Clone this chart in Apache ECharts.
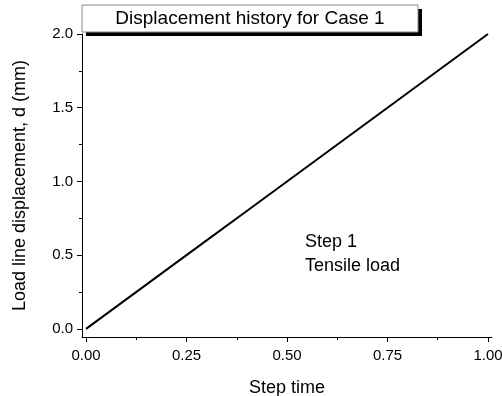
<!DOCTYPE html>
<html><head><meta charset="utf-8">
<script src="https://cdn.jsdelivr.net/npm/echarts@6/dist/echarts.min.js"></script>
<style>html,body{margin:0;padding:0;background:#fff}#c{width:502px;height:396px}</style>
</head><body><div id="c"></div>
<script>
const stepTime = [0, 0.1, 0.2, 0.3, 0.4, 0.5, 0.6, 0.7, 0.8, 0.9, 1.0];
const displacement = [0, 0.2, 0.4, 0.6, 0.8, 1.0, 1.2, 1.4, 1.6, 1.8, 2.0];
const xTicks = [0, 0.25, 0.5, 0.75, 1.0];
const xMinorTicks = [0.125, 0.375, 0.625, 0.875];
const yTicks = [0, 0.5, 1.0, 1.5, 2.0];
const yMinorTicks = [0.25, 0.75, 1.25, 1.75];
const titleText = 'Displacement history for Case 1';
const noteLines = ['Step 1', 'Tensile load'];

const FONT = 'Liberation Sans, Arial, sans-serif';
const chart = echarts.init(document.getElementById('c'));
const axLine = {show: true, onZero: false, lineStyle: {color: '#000', width: 1}};
chart.setOption({
  animation: false,
  backgroundColor: '#fff',
  grid: {left: 82, top: 34, right: 10, bottom: 59, containLabel: false, outerBoundsMode: 'none'},
  xAxis: [{
    type: 'value', min: -0.01, max: 1.01,
    name: 'Step time', nameLocation: 'middle', nameGap: 42,
    nameTextStyle: {fontFamily: FONT, fontSize: 18, color: '#000'},
    axisLine: axLine,
    axisTick: {show: true, customValues: xTicks, length: 5, inside: false, lineStyle: {color: '#000'}},
    axisLabel: {customValues: xTicks, fontFamily: FONT, fontSize: 15, color: '#000', margin: 11,
      formatter: v => v.toFixed(2)},
    splitLine: {show: false}
  }, {
    type: 'value', min: -0.01, max: 1.01, position: 'bottom',
    axisLine: {show: false, onZero: false},
    axisTick: {show: true, customValues: xMinorTicks, length: 3, lineStyle: {color: '#000'}},
    axisLabel: {show: false}, splitLine: {show: false}
  }],
  yAxis: [{
    type: 'value', min: -0.055, max: 2.0,
    name: 'Load line displacement, d (mm)', nameLocation: 'middle', nameGap: 53,
    nameTextStyle: {fontFamily: FONT, fontSize: 18, color: '#000'},
    axisLine: axLine,
    axisTick: {show: true, customValues: yTicks, length: 5, lineStyle: {color: '#000'}},
    axisLabel: {customValues: yTicks, fontFamily: FONT, fontSize: 15, color: '#000', margin: 9,
      formatter: v => v.toFixed(1)},
    splitLine: {show: false}
  }, {
    type: 'value', min: -0.055, max: 2.0, position: 'left',
    axisLine: {show: false, onZero: false},
    axisTick: {show: true, customValues: yMinorTicks, length: 3, lineStyle: {color: '#000'}},
    axisLabel: {show: false}, splitLine: {show: false}
  }],
  series: [{
    type: 'line', xAxisIndex: 0, yAxisIndex: 0,
    data: stepTime.map((t, i) => [t, displacement[i]]),
    showSymbol: false, lineStyle: {color: '#000', width: 2}
  }],
  graphic: [
    {type: 'rect', shape: {x: 86, y: 9, width: 336, height: 27}, style: {fill: '#000'}},
    {type: 'rect', shape: {x: 82, y: 5, width: 336, height: 27}, style: {fill: '#fff', stroke: '#888', lineWidth: 1}},
    {type: 'text', x: 250, y: 19, style: {text: titleText, font: '19px ' + FONT, fill: '#000', align: 'center', verticalAlign: 'middle'}},
    {type: 'text', x: 305, y: 242, style: {text: noteLines[0], font: '18px ' + FONT, fill: '#000', verticalAlign: 'middle'}},
    {type: 'text', x: 305, y: 266, style: {text: noteLines[1], font: '18px ' + FONT, fill: '#000', verticalAlign: 'middle'}}
  ]
});
</script></body></html>
